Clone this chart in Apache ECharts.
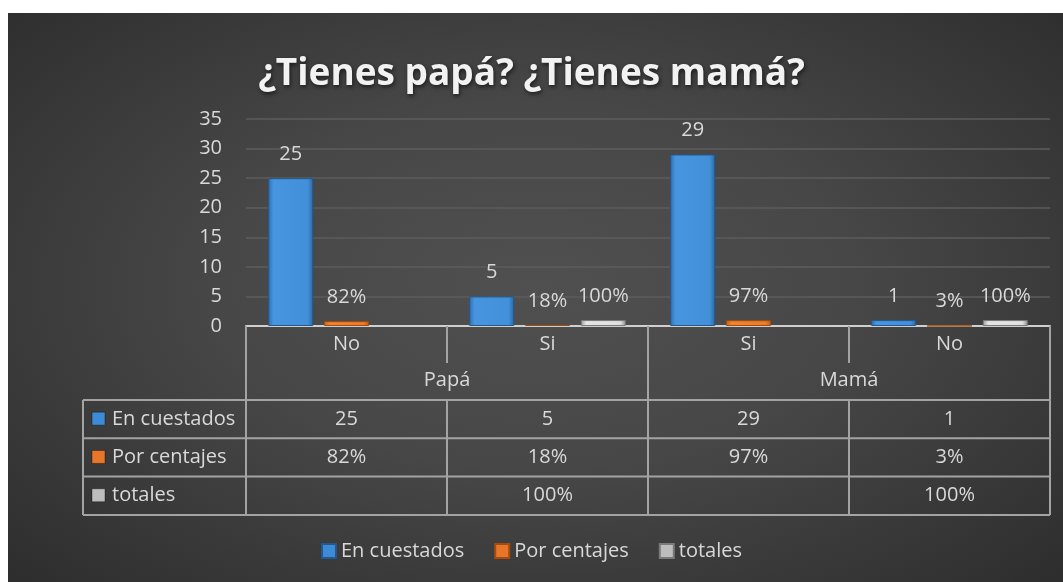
<!DOCTYPE html>
<html>
<head>
<meta charset="utf-8">
<script src="https://cdn.jsdelivr.net/npm/echarts@6/dist/echarts.min.js"></script>
<style>
  html, body { margin: 0; padding: 0; background: #fff; }
  #bg {
    position: absolute; left: 8px; top: 13px; width: 1055px; height: 569px;
    background: radial-gradient(ellipse 75% 80% at 50% 48%, #505050 0%, #474747 40%, #2a2a2a 100%);
  }
  #main { position: absolute; left: 0; top: 0; width: 1063px; height: 582px; }
</style>
</head>
<body>
<div id="bg"></div>
<div id="main"></div>
<script>
// chart data
const categories = ['No', 'Si', 'Si', 'No'];
const groups = ['Papá', 'Mamá'];
const seriesNames = ['En cuestados', 'Por centajes', 'totales'];
const encuestados = [25, 5, 29, 1];
const porcentajes = [0.82, 0.18, 0.97, 0.03];
const totales = [null, 1, null, 1];
const yMin = 0, yMax = 35, yStep = 5;

const FONT = 'Open Sans';
const TXT = '#d9d9d9';
const LINE = '#a3a3a3';

const pct = v => (v == null ? '' : Math.round(v * 100) + '%');

const blue = new echarts.graphic.LinearGradient(0, 0, 1, 0, [
  { offset: 0, color: '#2f6fb0' }, { offset: 0.12, color: '#4795de' },
  { offset: 0.88, color: '#4190d9' }, { offset: 1, color: '#2b66a3' }
]);
const orange = new echarts.graphic.LinearGradient(0, 0, 1, 0, [
  { offset: 0, color: '#c95f14' }, { offset: 0.12, color: '#f0842f' },
  { offset: 0.88, color: '#ec7d2b' }, { offset: 1, color: '#c25a12' }
]);
const gray = new echarts.graphic.LinearGradient(0, 0, 1, 0, [
  { offset: 0, color: '#9a9a9a' }, { offset: 0.12, color: '#e6e6e6' },
  { offset: 0.88, color: '#e0e0e0' }, { offset: 1, color: '#8f8f8f' }
]);
const colors = [blue, orange, gray];
const iconColors = ['#3d8ad6', '#e8762a', '#bdbdbd'];

const chart = echarts.init(document.getElementById('main'));

const labelStyle = { show: true, position: 'top', distance: 14, color: TXT, fontFamily: FONT, fontSize: 20 };

chart.setOption({
  animation: false,
  textStyle: { fontFamily: FONT },
  title: {
    text: '¿Tienes papá? ¿Tienes mamá?',
    left: 'center', top: 51,
    textStyle: {
      color: '#f2f2f2', fontFamily: FONT, fontWeight: 'bold', fontSize: 37,
      textShadowColor: 'rgba(0,0,0,0.6)', textShadowBlur: 4, textShadowOffsetX: 1, textShadowOffsetY: 2
    }
  },
  legend: {
    bottom: 16, left: 'center',
    itemWidth: 14, itemHeight: 14, itemGap: 30,
    icon: 'rect',
    textStyle: { color: TXT, fontFamily: FONT, fontSize: 20 },
    data: seriesNames.map((n, i) => ({ name: n, itemStyle: { color: iconColors[i] } }))
  },
  grid: { left: 246, right: 13, top: 119, bottom: 256, containLabel: false },
  xAxis: [
    {
      type: 'category', data: categories, position: 'bottom',
      axisLine: { show: true, lineStyle: { color: '#cfcfcf', width: 2 } },
      axisTick: { show: true, length: 37, lineStyle: { color: LINE, width: 2 } },
      axisLabel: { color: TXT, fontFamily: FONT, fontSize: 20, margin: 8 }
    },
    {
      type: 'category', data: groups, position: 'bottom', offset: 0,
      axisLine: { show: false },
      axisTick: { show: true, length: 74, lineStyle: { color: LINE, width: 2 } },
      axisLabel: { color: TXT, fontFamily: FONT, fontSize: 20, margin: 44 }
    }
  ],
  yAxis: {
    type: 'value', min: yMin, max: yMax, interval: yStep,
    axisLine: { show: false }, axisTick: { show: false },
    axisLabel: { color: TXT, fontFamily: FONT, fontSize: 20, margin: 24 },
    splitLine: { lineStyle: { color: '#5c5c5c', width: 1.5 } }
  },
  series: [
    {
      name: seriesNames[0], type: 'bar', data: encuestados, barWidth: 45, barGap: '24%',
      itemStyle: { color: colors[0], borderColor: '#25588c', borderWidth: 1 },
      label: labelStyle
    },
    {
      name: seriesNames[1], type: 'bar', data: porcentajes, barWidth: 45, barGap: '24%',
      itemStyle: { color: colors[1], borderColor: '#a34c0e', borderWidth: 1 },
      label: Object.assign({}, labelStyle, { formatter: p => pct(p.value) })
    },
    {
      name: seriesNames[2], type: 'bar', data: totales, barWidth: 45, barGap: '24%',
      itemStyle: { color: colors[2], borderColor: '#7a7a7a', borderWidth: 1 },
      label: Object.assign({}, labelStyle, { formatter: p => pct(p.value) })
    }
  ]
});

// data table under the axis, placed from the axis scale
const c0 = chart.convertToPixel({ xAxisIndex: 0 }, 0);
const c1 = chart.convertToPixel({ xAxisIndex: 0 }, 1);
const band = c1 - c0;
const xEdges = [];
for (let i = 0; i <= categories.length; i++) xEdges.push(c0 - band / 2 + i * band);
const axisY = chart.convertToPixel({ yAxisIndex: 0 }, 0);
const tableLeft = 83;
const rowTop = 400, rowH = 38.3;
const rows = [
  { name: seriesNames[0], icon: iconColors[0], cells: encuestados.map(v => String(v)) },
  { name: seriesNames[1], icon: iconColors[1], cells: porcentajes.map(pct) },
  { name: seriesNames[2], icon: iconColors[2], cells: totales.map(pct) }
];
const tableBottom = rowTop + rows.length * rowH;

const els = [];
const line = (x1, y1, x2, y2) => els.push({
  type: 'line', silent: true,
  shape: { x1, y1, x2, y2 }, style: { stroke: LINE, lineWidth: 2 }
});
for (let r = 0; r <= rows.length; r++) line(tableLeft, rowTop + r * rowH, xEdges[4], rowTop + r * rowH);
line(tableLeft, rowTop, tableLeft, tableBottom);
line(xEdges[0], axisY, xEdges[0], tableBottom);
line(xEdges[4], axisY, xEdges[4], tableBottom);
for (let i = 1; i < categories.length; i++) line(xEdges[i], rowTop, xEdges[i], tableBottom);

rows.forEach((row, r) => {
  const cy = rowTop + r * rowH + rowH / 2;
  els.push({
    type: 'rect', silent: true,
    shape: { x: 92, y: cy - 7, width: 13, height: 13 },
    style: { fill: row.icon, stroke: 'rgba(0,0,0,0.35)', lineWidth: 1 }
  });
  els.push({
    type: 'text', silent: true, x: 112, y: cy,
    style: { text: row.name, fill: TXT, font: '20px "Open Sans"', textAlign: 'left', textVerticalAlign: 'middle' }
  });
  row.cells.forEach((t, i) => {
    els.push({
      type: 'text', silent: true, x: (xEdges[i] + xEdges[i + 1]) / 2, y: cy,
      style: { text: t, fill: TXT, font: '20px "Open Sans"', textAlign: 'center', textVerticalAlign: 'middle' }
    });
  });
});

chart.setOption({ graphic: { elements: els } });
</script>
</body>
</html>
